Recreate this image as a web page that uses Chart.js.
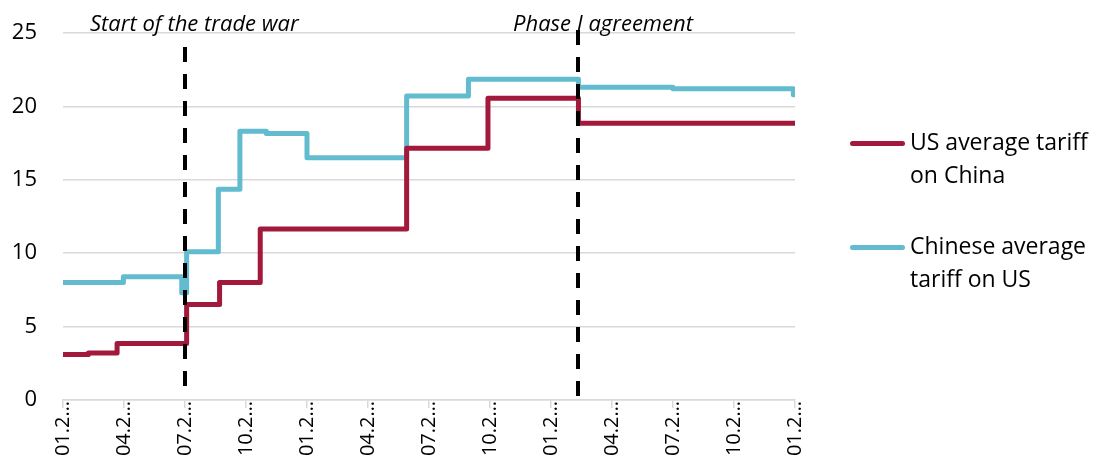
<!DOCTYPE html>
<html>
<head>
<meta charset="utf-8">
<script src="https://cdn.jsdelivr.net/npm/chart.js@4.4.1/dist/chart.umd.min.js"></script>
<style>
  html, body { margin: 0; padding: 0; background: #ffffff; }
  #wrap { position: relative; width: 1096px; height: 466px; overflow: hidden; }
  #c { position: absolute; left: 0; top: 0; }
  .legline { position: absolute; left: 850px; width: 55px; height: 5px; border-radius: 3px; }
  .legtext { position: absolute; left: 910px; font-family: "Open Sans", sans-serif; font-size: 23px; line-height: 33px; color: #000; white-space: nowrap; }
</style>
</head>
<body>
<div id="wrap">
  <canvas id="c" width="1096" height="466"></canvas>
  <div class="legline" id="l1" style="top:141px;"></div>
  <div class="legtext" id="t1" style="top:125px;"></div>
  <div class="legline" id="l2" style="top:245px;"></div>
  <div class="legtext" id="t2" style="top:229px;"></div>
</div>
<script>
// ---- Data (months since Jan 2018) ----
const tickMonths = [0, 3, 6, 9, 12, 15, 18, 21, 24, 27, 30, 33, 36];
const tickLabels = ["01.2…", "04.2…", "07.2…", "10.2…", "01.2…", "04.2…", "07.2…", "10.2…", "01.2…", "04.2…", "07.2…", "10.2…", "01.2…"];

const usMonths = [0, 1.25, 2.66, 6.08, 7.7, 9.7, 16.9, 20.9, 25.35, 36];
const usValues = [3.1, 3.2, 3.85, 6.5, 8.0, 11.65, 17.15, 20.55, 18.85, 18.85];

const cnMonths = [0, 2.97, 5.84, 6.08, 7.64, 8.7, 10.0, 12.0, 16.9, 19.94, 25.35, 30.0, 35.92, 36];
const cnValues = [8.0, 8.4, 7.3, 10.1, 14.35, 18.3, 18.15, 16.5, 20.7, 21.85, 21.3, 21.2, 20.8, 20.8];

const seriesNames = [["US average tariff", "on China"], ["Chinese average", "tariff on US"]];
const seriesColors = ["#a2193b", "#62bbce"];

const eventMonths = [6.0, 25.35];
const eventLabels = ["Start of the trade war", "Phase I agreement"];

// ---- Build ----
const toPts = (xs, ys) => xs.map((x, i) => ({ x: x, y: ys[i] }));

const eventPlugin = {
  id: 'events',
  afterDatasetsDraw(chart) {
    const { ctx, scales: { x, y } } = chart;
    ctx.save();
    ctx.strokeStyle = '#000';
    ctx.lineWidth = 4;
    ctx.setLineDash([15, 12]);
    const tops = [47, 30];
    eventMonths.forEach((m, i) => {
      const px = Math.round(x.getPixelForValue(m));
      ctx.beginPath();
      ctx.moveTo(px, tops[i]);
      ctx.lineTo(px, y.getPixelForValue(0) - 2);
      ctx.stroke();
    });
    ctx.setLineDash([]);
    ctx.fillStyle = '#000';
    ctx.font = 'italic 22px "Open Sans"';
    ctx.textBaseline = 'alphabetic';
    ctx.textAlign = 'left';
    const lefts = [90, 513];
    eventLabels.forEach((t, i) => {
      ctx.fillText(t, lefts[i], 31);
    });
    ctx.restore();
  }
};

document.getElementById('l1').style.background = seriesColors[0];
document.getElementById('l2').style.background = seriesColors[1];
document.getElementById('t1').innerHTML = seriesNames[0].join('<br>');
document.getElementById('t2').innerHTML = seriesNames[1].join('<br>');

new Chart(document.getElementById('c'), {
  type: 'line',
  data: {
    datasets: [
      {
        label: seriesNames[0].join(' '),
        data: toPts(usMonths, usValues),
        borderColor: seriesColors[0],
        backgroundColor: seriesColors[0],
        borderWidth: 5,
        stepped: 'before',
        pointRadius: 0,
        borderJoinStyle: 'round',
        borderCapStyle: 'round',
        fill: false
      },
      {
        label: seriesNames[1].join(' '),
        data: toPts(cnMonths, cnValues),
        borderColor: seriesColors[1],
        backgroundColor: seriesColors[1],
        borderWidth: 5,
        stepped: 'before',
        pointRadius: 0,
        borderJoinStyle: 'round',
        borderCapStyle: 'round',
        fill: false
      }
    ]
  },
  options: {
    responsive: false,
    animation: false,
    events: [],
    layout: { padding: { top: 33, right: 301, left: 0, bottom: 0 } },
    plugins: {
      legend: { display: false },
      tooltip: { enabled: false }
    },
    scales: {
      x: {
        type: 'linear',
        min: 0,
        max: 36,
        afterBuildTicks: (s) => { s.ticks = tickMonths.map(v => ({ value: v })); },
        afterFit: (s) => { s.height = 66; s.paddingTop = 0; s.paddingBottom = 0; },
        grid: { drawOnChartArea: false, drawTicks: true, tickLength: 8, color: '#d9d9d9', lineWidth: 1.5 },
        border: { display: true, color: '#d9d9d9', width: 1.5 },
        ticks: {
          autoSkip: false,
          maxRotation: 90,
          minRotation: 90,
          padding: -7,
          color: '#000',
          font: { family: 'Open Sans', size: 20 },
          callback: (v, i) => tickLabels[i]
        }
      },
      y: {
        min: 0,
        max: 25,
        afterBuildTicks: (s) => { s.ticks = [0, 5, 10, 15, 20, 25].map(v => ({ value: v })); },
        afterFit: (s) => { s.width = 63; s.paddingTop = 0; s.paddingBottom = 0; },
        grid: { drawTicks: false, color: '#d9d9d9', lineWidth: 1.5 },
        border: { display: false },
        ticks: {
          padding: 26,
          color: '#000',
          font: { family: 'Open Sans', size: 22 }
        }
      }
    }
  },
  plugins: [eventPlugin]
});
</script>
</body>
</html>
